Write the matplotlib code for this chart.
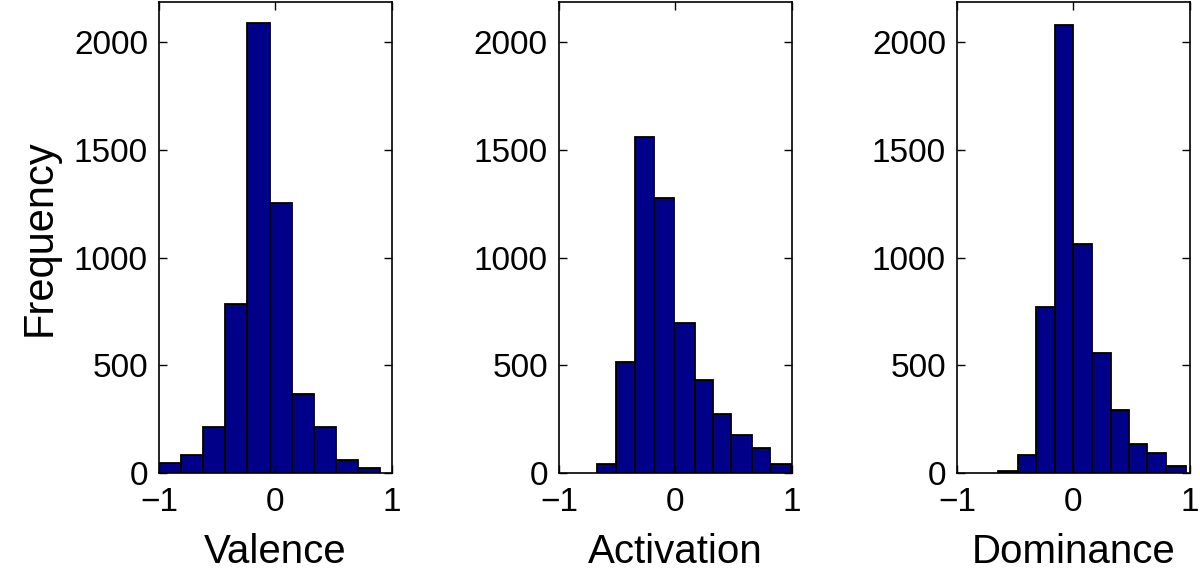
import matplotlib
matplotlib.use("Agg")
import matplotlib.pyplot as plt

plt.rcParams['font.family'] = ['Liberation Sans', 'DejaVu Sans']

# bin edges and counts
valence_edges = [-1.0, -0.81, -0.62, -0.43, -0.24, -0.05, 0.14, 0.33, 0.52, 0.71, 0.90]
valence_counts = [49, 85, 212, 783, 2088, 1255, 369, 212, 62, 23]

activation_edges = [-0.675, -0.51, -0.35, -0.18, -0.015, 0.165, 0.325, 0.48, 0.655, 0.815, 0.99]
activation_counts = [43, 517, 1559, 1274, 695, 432, 273, 178, 116, 42]

dominance_edges = [-0.645, -0.48, -0.32, -0.155, 0.0, 0.16, 0.32, 0.48, 0.635, 0.795, 0.965]
dominance_counts = [11, 85, 769, 2077, 1062, 559, 293, 136, 93, 31]

labels = ["Valence", "Activation", "Dominance"]
x_ticks = [-1, 0, 1]
y_ticks = [0, 500, 1000, 1500, 2000]

panels = [(valence_edges, valence_counts),
          (activation_edges, activation_counts),
          (dominance_edges, dominance_counts)]

fig = plt.figure(figsize=(12, 5.77), dpi=100)
lefts = [0.1325, 0.4658, 0.7975]

for i, (edges, counts) in enumerate(panels):
    ax = fig.add_axes([lefts[i], 0.180, 0.194, 0.8165])
    ax.hist(edges[:-1], bins=edges, weights=counts,
            color='#000088', edgecolor='black', linewidth=1.3)
    ax.set_xlim(-1, 1)
    ax.set_ylim(0, 2185)
    ax.set_xticks(x_ticks)
    ax.set_yticks(y_ticks)
    ax.tick_params(direction='in', length=6, width=1.0, labelsize=24,
                   top=True, right=True)
    ax.tick_params(axis='x', pad=10)
    ax.tick_params(axis='y', pad=8)
    for s in ax.spines.values():
        s.set_linewidth(1.2)
    ax.set_xlabel(labels[i], fontsize=29, labelpad=11)
    if i == 0:
        ax.set_ylabel("Frequency", fontsize=30, labelpad=10)

fig.savefig("out.png", dpi=100)
